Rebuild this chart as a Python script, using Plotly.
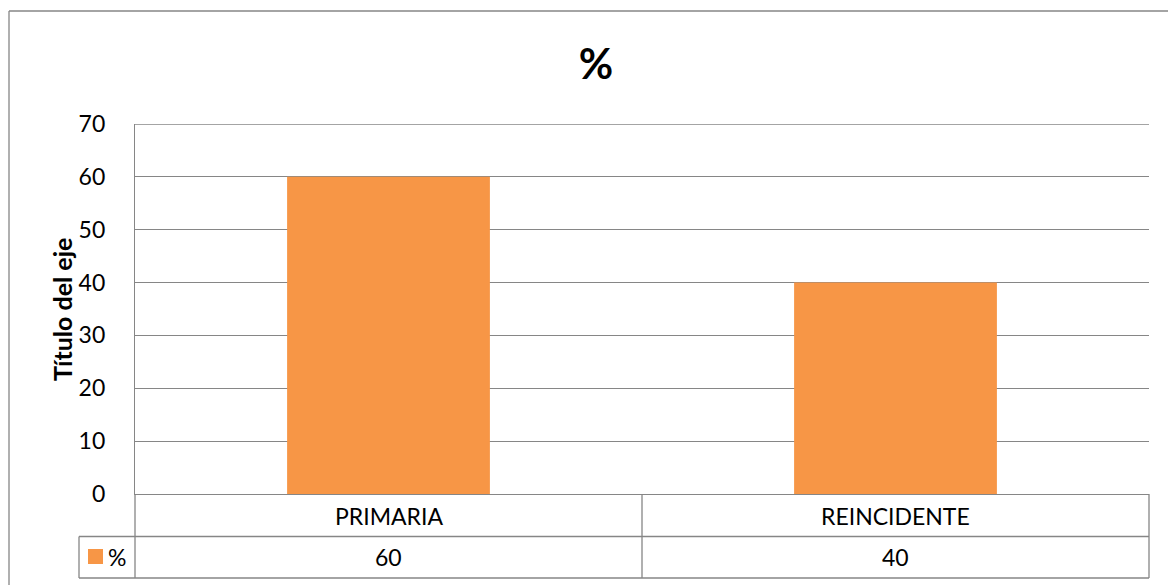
import plotly.graph_objects as go

categories = ["PRIMARIA", "REINCIDENTE"]
values = [60, 40]
series_name = "%"
chart_title = "%"
y_title = "Título del eje"
y_ticks = [0, 10, 20, 30, 40, 50, 60, 70]

BAR = "#F79646"
GRID = "#868686"
FONT = "Lato"
FS = 23

W, H = 1168, 585
L, R, T, B = 135, 1149, 124, 494   # plot area pixels


def px(xp):
    return (xp - L) / (R - L)


def py(yp):
    return (B - yp) / (B - T)


fig = go.Figure()
fig.add_trace(go.Bar(x=categories, y=values, name=series_name,
                     marker=dict(color=BAR, line=dict(width=0)),
                     showlegend=False))

shapes = []
annotations = []
row1 = py(536.5)
row2 = py(578)
leg_left = px(79)
line = dict(color=GRID, width=1.3)
# top gridline at axis maximum
shapes.append(dict(type="line", xref="paper", yref="y", x0=0, x1=1, y0=y_ticks[-1], y1=y_ticks[-1], line=line))
shapes.append(dict(type="line", xref="paper", yref="paper", x0=leg_left, x1=1, y0=row1, y1=row1, line=line))
shapes.append(dict(type="line", xref="paper", yref="paper", x0=leg_left, x1=1, y0=row2, y1=row2, line=line))
shapes.append(dict(type="line", xref="paper", yref="paper", x0=0, x1=0, y0=0, y1=row2, line=line))
shapes.append(dict(type="line", xref="paper", yref="paper", x0=1, x1=1, y0=0, y1=row2, line=line))
shapes.append(dict(type="line", xref="x", yref="paper", x0=0.5, x1=0.5, y0=0, y1=row2, line=line))
shapes.append(dict(type="line", xref="paper", yref="paper", x0=leg_left, x1=leg_left, y0=row1, y1=row2, line=line))
# outer chart border (left & top)
shapes.append(dict(type="line", xref="paper", yref="paper", x0=px(9), x1=px(9), y0=py(11), y1=py(590), line=line))
shapes.append(dict(type="line", xref="paper", yref="paper", x0=px(9), x1=px(1175), y0=py(11), y1=py(11), line=line))
# legend key
shapes.append(dict(type="rect", xref="paper", yref="paper", x0=px(88), x1=px(103), y0=py(549), y1=py(564),
                   fillcolor=BAR, line=dict(width=0)))
annotations.append(dict(xref="paper", yref="paper", x=px(106), y=py(557), text=series_name, showarrow=False,
                        xanchor="left", yanchor="middle", font=dict(family=FONT, size=FS, color="#000")))

for c, v in zip(categories, values):
    annotations.append(dict(xref="x", yref="paper", x=c, y=py(516), text=c, showarrow=False,
                            yanchor="middle", font=dict(family=FONT, size=FS, color="#000")))
    annotations.append(dict(xref="x", yref="paper", x=c, y=py(557), text=str(v), showarrow=False,
                            yanchor="middle", font=dict(family=FONT, size=FS, color="#000")))

annotations.append(dict(xref="paper", yref="paper", x=px(62), y=py(310), text="<b>%s</b>" % y_title,
                        textangle=-90, showarrow=False, xanchor="center", yanchor="middle",
                        font=dict(family=FONT, size=25, color="#000")))

fig.update_layout(
    width=W, height=H,
    margin=dict(l=L, r=W - R, t=T, b=H - B),
    paper_bgcolor="white", plot_bgcolor="white",
    bargap=0.6,
    title=dict(text="<b>%s</b>" % chart_title, x=596 / W, xanchor="center", y=1 - 64 / H, yanchor="middle",
               font=dict(family=FONT, size=42, color="#000")),
    shapes=shapes, annotations=annotations,
    font=dict(family=FONT, size=FS, color="#000"),
)
fig.update_xaxes(showticklabels=False, showgrid=False, showline=True, linecolor=GRID, linewidth=1.3,
                 range=[-0.5, 1.5], fixedrange=True)
fig.update_yaxes(range=[0, 70], tickvals=y_ticks, showgrid=True, gridcolor=GRID, gridwidth=1.3,
                 showline=True, linecolor=GRID, linewidth=1.3, zeroline=False,
                 ticklabelstandoff=24, tickfont=dict(family=FONT, size=FS, color="#000"))

fig.write_html("out.html", config={"displayModeBar": False},
               post_script="document.body.style.margin='0';")
